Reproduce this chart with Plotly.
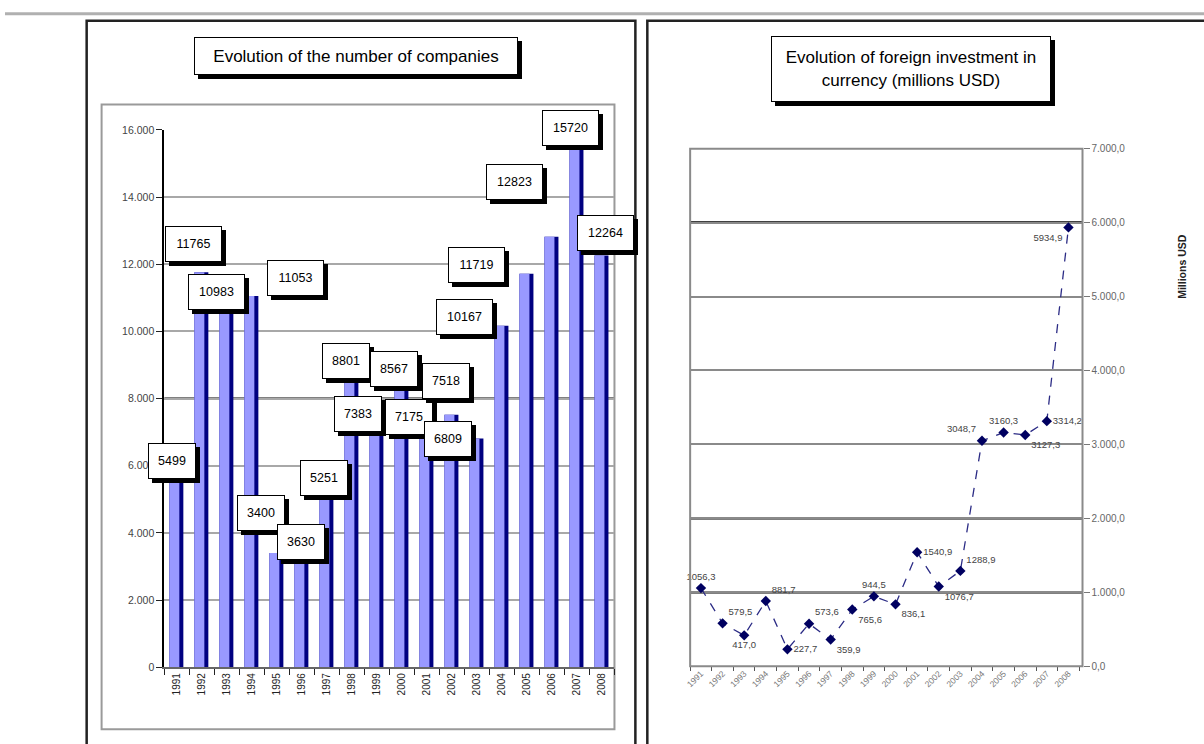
import plotly.graph_objects as go

W, H = 1204, 744

# ---------------- data ----------------
years = ["1991", "1992", "1993", "1994", "1995", "1996", "1997", "1998", "1999",
         "2000", "2001", "2002", "2003", "2004", "2005", "2006", "2007", "2008"]
companies = [5499, 11765, 10983, 11053, 3400, 3630, 5251, 8801, 7383,
             8567, 7175, 7518, 6809, 10167, 11719, 12823, 15720, 12264]
investment = [1056.3, 579.5, 417.0, 881.7, 227.7, 573.6, 359.9, 765.6, 944.5,
              836.1, 1540.9, 1076.7, 1288.9, 3048.7, 3160.3, 3127.3, 3314.2, 5934.9]

title_left = "Evolution of the number of companies"
title_right = "Evolution of foreign investment in<br>currency (millions USD)"
right_axis_title = "Millions USD"

left_dark_grid = [8000]
right_dark_grid = [1000, 2000, 6000]

# ---------------- label styles (pixel nudges, not data) ----------------
point_label_pos = ["top center", "top right", "bottom center", "top right", "middle right",
                   "top right", "bottom right", "bottom right", "top center", "bottom right",
                   "middle right", "bottom right", "top right", "top left", "top center",
                   "bottom right", "middle right", "bottom left"]
bar_label_dx = [-5, -8, -10, 44, -16, -1, -3, -6, -19, -8, -18, -6, -29, -37, -50, -37, -6, 4]
bar_label_dy = [22, 28, 6, 18, 40, 3, 13, 11, 5, 11, 9, 34, 0, 9, 9, 55, 11, 22]


def px(x):
    return x / W


def py(y):
    return 1 - y / H


FONT = "Liberation Sans, Arial, sans-serif"
PURPLE = "#9999FF"
NAVY = "#000080"

fig = go.Figure()

# ---- left: bar chart (navy side + purple face) ----
fig.add_trace(go.Bar(x=years, y=companies, xaxis="x", yaxis="y",
                     marker=dict(color=NAVY, line=dict(width=0)),
                     width=0.56, offset=-0.3, hoverinfo="skip", showlegend=False))
fig.add_trace(go.Bar(x=years, y=companies, xaxis="x", yaxis="y",
                     marker=dict(color=PURPLE, line=dict(width=0)),
                     width=0.4, offset=-0.3, showlegend=False))

# ---- right: line chart ----
fig.add_trace(go.Scatter(x=years, y=investment, xaxis="x2", yaxis="y2",
                         mode="lines+markers+text",
                         line=dict(color="#2b2b85", width=1.3, dash="dash"),
                         marker=dict(symbol="diamond", size=8, color="#000060"),
                         text=[f"{v:.1f}".replace(".", ",") for v in investment],
                         textposition=point_label_pos,
                         textfont=dict(size=9.5, color="#444", family=FONT),
                         cliponaxis=False, showlegend=False))

shapes = []
annotations = []

# dark gridlines
for v in left_dark_grid:
    shapes.append(dict(type="line", xref="x domain", yref="y", x0=0, x1=1, y0=v, y1=v,
                       line=dict(color="black", width=2), layer="below"))
for v in right_dark_grid:
    shapes.append(dict(type="line", xref="x2 domain", yref="y2", x0=0, x1=1, y0=v, y1=v,
                       line=dict(color="black", width=2.5), layer="below"))

# right plot-area border
shapes.append(dict(type="rect", xref="x2 domain", yref="y2 domain", x0=0, x1=1, y0=0, y1=1,
                   line=dict(color="#8a8a8a", width=2)))

# left chart-area box
shapes.append(dict(type="rect", xref="paper", yref="paper",
                   x0=px(97), x1=px(612), y0=py(735), y1=py(100),
                   line=dict(color="#9a9a9a", width=2), layer="below"))

# outer panel frames
shapes.append(dict(type="rect", xref="paper", yref="paper",
                   x0=px(82), x1=px(633), y0=py(770), y1=py(15),
                   line=dict(color="#222", width=2.5)))
shapes.append(dict(type="rect", xref="paper", yref="paper",
                   x0=px(645), x1=px(1220), y0=py(770), y1=py(15),
                   line=dict(color="#222", width=2.5)))
# top grey band
shapes.append(dict(type="line", xref="paper", yref="paper",
                   x0=0, x1=1, y0=py(8), y1=py(8),
                   line=dict(color="#b0b0b0", width=3)))


def boxed(text, x, y, w, h, size, xref="paper", yref="paper", xshift=0, yshift=0, shadow=4):
    common = dict(x=x, y=y, xref=xref, yref=yref, showarrow=False,
                  width=w, height=h, align="center", valign="middle",
                  xanchor="center", yanchor="middle", borderpad=1)
    # drop shadow (empty box)
    annotations.append(dict(common, text="&nbsp;", bgcolor="black", bordercolor="black",
                            borderwidth=1, font=dict(size=size, color="black", family=FONT),
                            xshift=xshift + shadow, yshift=yshift - shadow))
    annotations.append(dict(common, text=text, bgcolor="white", bordercolor="black",
                            borderwidth=1, font=dict(size=size, color="black", family=FONT),
                            xshift=xshift, yshift=yshift))


# titles
boxed(title_left, px(352), py(51), 320, 34, 17)
boxed(title_right, px(910), py(64), 276, 62, 17)

# bar data labels (placed at each category's index on the category axis)
for i, v in enumerate(companies):
    s = str(v)
    boxed(s, i, v, 9 * len(s) + 8, 32, 12.5, xref="x", yref="y",
          xshift=bar_label_dx[i], yshift=bar_label_dy[i])

# right axis title
annotations.append(dict(x=px(1190), y=py(230), xref="paper", yref="paper",
                        text="<b>" + right_axis_title + "</b>", showarrow=False,
                        textangle=-90, font=dict(size=10.5, color="#222", family=FONT)))

fig.update_layout(
    width=W, height=H,
    margin=dict(l=0, r=0, t=0, b=0),
    paper_bgcolor="white", plot_bgcolor="white",
    separators=",.",
    barmode="overlay",
    font=dict(family=FONT, color="#333"),
    showlegend=False,
    shapes=shapes,
    annotations=annotations,
    xaxis=dict(domain=[px(160), px(612)], anchor="y", type="category",
               range=[-0.5, 17.5], tickangle=-90, tickfont=dict(size=10, color="#222"),
               ticks="outside", ticklen=6, tickcolor="#222", tickson="boundaries",
               showline=True, linecolor="#666", linewidth=2, showgrid=False),
    yaxis=dict(domain=[py(672), py(126)], anchor="x", range=[0, 16000], dtick=2000,
               tickformat=",d", tickfont=dict(size=10.5, color="#444"),
               ticks="outside", ticklen=6, tickcolor="#222",
               showline=True, linecolor="black", linewidth=2,
               showgrid=True, gridcolor="#a8a8a8", gridwidth=2, zeroline=False),
    xaxis2=dict(domain=[px(688), px(1082)], anchor="y2", type="category",
                range=[-0.5, 17.65], tickangle=-45, tickfont=dict(size=8.5, color="#777"),
                ticks="outside", ticklen=4, tickcolor="#555", tickson="boundaries",
                showline=False, showgrid=False),
    yaxis2=dict(domain=[py(671), py(145)], anchor="x2", side="right", range=[0, 7000],
                dtick=1000, tickformat=",.1f", tickfont=dict(size=10, color="#666"),
                ticks="outside", ticklen=6, tickcolor="#777",
                showline=False, showgrid=True, gridcolor="#8a8a8a", gridwidth=2,
                zeroline=False),
)

fig.write_html("out.html", config={"displayModeBar": False},
               post_script="document.body.style.margin='0';")
